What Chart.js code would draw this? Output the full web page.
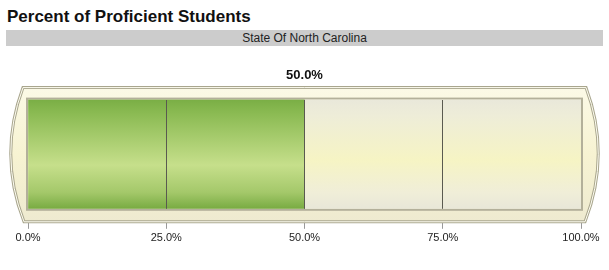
<!DOCTYPE html>
<html>
<head>
<meta charset="utf-8">
<script src="https://cdn.jsdelivr.net/npm/chart.js@4"></script>
<style>
    body { margin: 0; background: #fff; font-family: Arial, "Liberation Sans", sans-serif; }
    #title { position: absolute; left: 7px; top: 7px; font-size: 17px; font-weight: bold; color: #111; }
    #band { position: absolute; left: 6px; top: 30px; width: 597px; height: 16px; background: #cccccc;
            font-size: 12px; line-height: 16px; text-align: center; color: #222; }
    #wrap { position: absolute; left: 0; top: 50px; width: 609px; height: 220px; }
</style>
</head>
<body>
<div id="title">Percent of Proficient Students</div>
<div id="band">State Of North Carolina</div>
<div id="wrap"><canvas id="myChart"></canvas></div>
<script>
const categories = ['State Of North Carolina'];
const proficient = [50.0];
const notProficient = [50.0];
const tickValues = [0, 25, 50, 75, 100];

const ctx = document.getElementById('myChart');

function vGrad(chart, stops, fallback) {
    const a = chart.chartArea;
    if (!a) return fallback;
    const g = chart.ctx.createLinearGradient(0, a.top, 0, a.bottom);
    stops.forEach(s => g.addColorStop(s[0], s[1]));
    return g;
}

const greenStops = [[0, '#7aae45'], [0.12, '#8aba52'], [0.6, '#c6df8b'], [0.85, '#a4c86a'], [1, '#78ab42']];
const creamStops = [[0, '#e9e8da'], [0.15, '#eeedd8'], [0.55, '#f6f4c4'], [0.85, '#f0eed8'], [1, '#e8e7d8']];

// cream frame drawn behind the bars
const framePlugin = {
    id: 'frame',
    beforeDatasetsDraw(chart) {
        const c = chart.ctx;
        const a = chart.chartArea;
        const t = a.top - 12, b = a.bottom + 13;
        const l = a.left - 8, r = a.right + 8, bulge = 11;
        const mid = (t + b) / 2;
        c.save();
        c.beginPath();
        c.moveTo(l + 3, t);
        c.lineTo(r - 3, t);
        c.quadraticCurveTo(r + 2 * bulge, mid, r - 4, b);
        c.lineTo(l + 4, b);
        c.quadraticCurveTo(l - 2 * bulge, mid, l + 3, t);
        c.closePath();
        const g = c.createLinearGradient(0, t, 0, b);
        g.addColorStop(0, '#fbf9e6');
        g.addColorStop(0.5, '#f7f3d2');
        g.addColorStop(1, '#eeead0');
        c.fillStyle = g;
        c.fill();
        c.lineWidth = 3;
        c.strokeStyle = '#a9a68e';
        c.stroke();
        c.lineWidth = 1;
        c.strokeStyle = '#fffef2';
        c.stroke();
        // inset edge round the bar
        c.lineWidth = 2;
        c.strokeStyle = '#b3b09a';
        c.strokeRect(a.left - 1, a.top - 1, a.right - a.left + 2, a.bottom - a.top + 2);
        c.restore();
    }
};

const setTicks = scale => { scale.ticks = tickValues.map(v => ({ value: v })); };

const chart = new Chart(ctx, {
    type: 'bar',
    data: {
        labels: categories,
        datasets: [
            {
                label: 'Proficient',
                data: proficient,
                backgroundColor: c => vGrad(c.chart, greenStops, '#a4c86a'),
                borderWidth: 0,
                barPercentage: 1,
                categoryPercentage: 1
            },
            {
                label: 'Not proficient',
                data: notProficient,
                backgroundColor: c => vGrad(c.chart, creamStops, '#f2f0cf'),
                borderWidth: 0,
                barPercentage: 1,
                categoryPercentage: 1
            }
        ]
    },
    options: {
        indexAxis: 'y',
        responsive: true,
        maintainAspectRatio: false,
        animation: false,
        layout: { padding: { left: 28, right: 28, top: 0, bottom: 22 } },
        plugins: {
            legend: { display: false },
            tooltip: { enabled: false },
            title: {
                display: true,
                text: proficient[0].toFixed(1) + '%',
                color: '#111',
                font: { family: 'Arial', size: 13, weight: 'bold' },
                padding: { top: 18, bottom: 16 }
            }
        },
        scales: {
            x: {
                stacked: true,
                min: 0,
                max: 100,
                afterBuildTicks: setTicks,
                ticks: {
                    callback: v => v.toFixed(1) + '%',
                    color: '#222',
                    font: { family: 'Arial', size: 11 },
                    padding: 3,
                    maxRotation: 0,
                    autoSkip: false
                },
                grid: { drawOnChartArea: false, tickLength: 20, color: '#999' },
                border: { display: false }
            },
            // second axis only for the lines drawn over the bars
            x2: {
                position: 'top',
                min: 0,
                max: 100,
                afterBuildTicks: setTicks,
                ticks: { display: false },
                grid: {
                    z: 1,
                    drawTicks: false,
                    color: c => (c.tick && c.tick.value > 0 && c.tick.value < 100) ? '#5a5a50' : 'rgba(0,0,0,0)'
                },
                border: { display: false }
            },
            y: { stacked: true, display: false }
        }
    },
    plugins: [framePlugin]
});
</script>
</body>
</html>
